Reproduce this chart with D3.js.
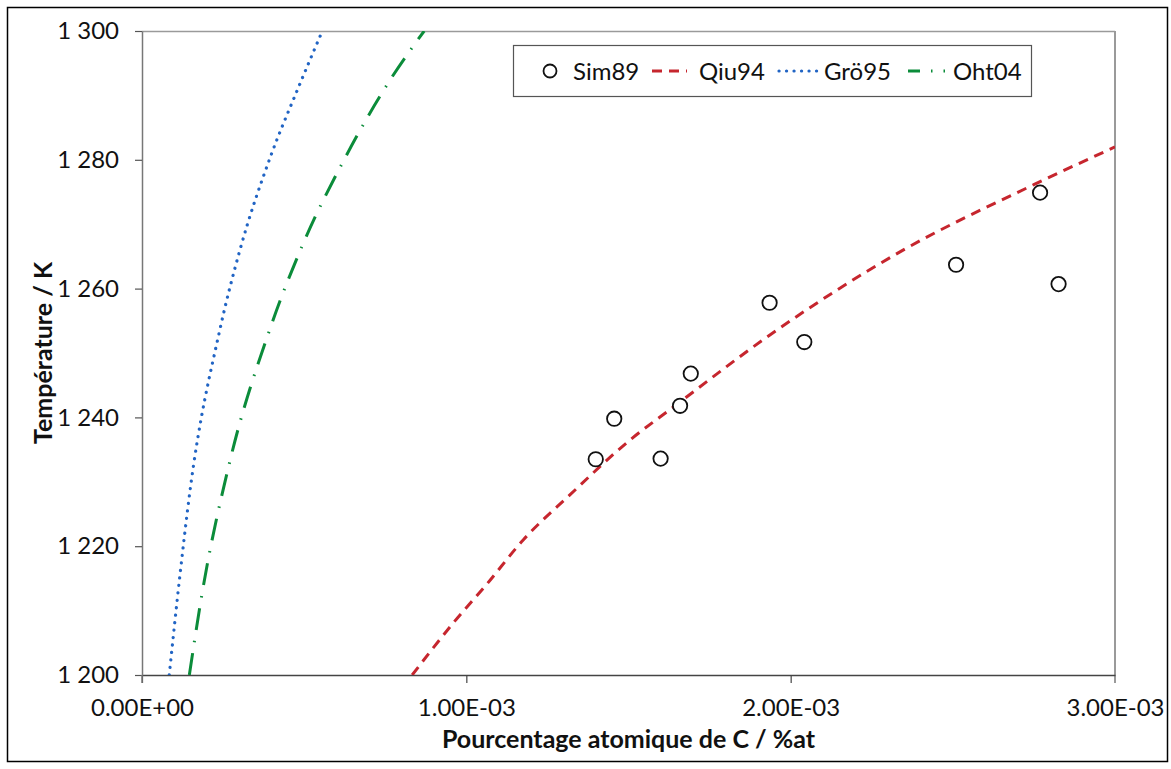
<!DOCTYPE html>
<html>
<head>
<meta charset="utf-8">
<script src="https://cdn.jsdelivr.net/npm/d3@7"></script>
<style>
  body { margin: 0; background: #fff; }
  svg { display: block; }
  text { font-family: Lato, "Open Sans", sans-serif; fill: #111; }
</style>
</head>
<body>
<div id="chart"></div>
<script>

// ---- data (x in %at, T in K) ----
var xTicks = [0, 0.001, 0.002, 0.003];
var xTickLabels = ["0.00E+00", "1.00E-03", "2.00E-03", "3.00E-03"];
var yTicks = [1200, 1220, 1240, 1260, 1280, 1300];
var yTickLabels = ["1 200", "1 220", "1 240", "1 260", "1 280", "1 300"];

// Sim89 measured points
var sim89X = [0.001399, 0.001456, 0.001599, 0.001659, 0.001692, 0.001935, 0.002042, 0.002510, 0.002769, 0.002826];
var sim89T = [1233.5, 1239.8, 1233.6, 1241.8, 1246.8, 1257.8, 1251.7, 1263.7, 1274.9, 1260.7];

// Qiu94 curve
var qiu94X = [0.000833, 0.000960, 0.001063, 0.001176, 0.001320, 0.001505, 0.001638, 0.001936, 0.002337, 0.002748, 0.003000];
var qiu94T = [1200, 1208.1, 1214.1, 1221.0, 1228.0, 1236.5, 1241.6, 1252.8, 1265.7, 1276.1, 1282.0];

// Grö95 curve
var gro95X = [0.000084, 0.000117, 0.000148, 0.000240, 0.000302, 0.000397, 0.000477, 0.000556];
var gro95T = [1200, 1215.5, 1228.6, 1253.6, 1266.0, 1280.6, 1290.6, 1300];

// Oht04 curve
var oht04X = [0.000146, 0.000184, 0.000271, 0.000395, 0.000497, 0.000623, 0.000765, 0.000870];
var oht04T = [1200, 1212.3, 1233.2, 1253.8, 1267.0, 1280.0, 1292.4, 1300];

var seriesNames = ["Sim89", "Qiu94", "Grö95", "Oht04"];

// ---- layout ----
var W = 1171, H = 769;
var margin = {top: 31, right: 56, bottom: 94, left: 142};
var plot_w = W - margin.left - margin.right;   // 973
var plot_h = H - margin.top - margin.bottom;   // 644

var svg = d3.select("#chart").append("svg")
  .attr("width", W).attr("height", H);

// outer frame
svg.append("rect")
  .attr("x", 7.5).attr("y", 7.5)
  .attr("width", 1160).attr("height", 754)
  .attr("fill", "none").attr("stroke", "#000").attr("stroke-width", 1.5);

var g = svg.append("g")
  .attr("transform", "translate(" + margin.left + "," + margin.top + ")");

var x = d3.scaleLinear().domain([0, 0.003]).range([0, plot_w]);
var y = d3.scaleLinear().domain([1200, 1300]).range([plot_h, 0]);

g.append("clipPath").attr("id", "clip")
  .append("rect").attr("width", plot_w).attr("height", plot_h);

// top and right frame of the plot area
g.append("line").attr("x1", 0).attr("x2", plot_w).attr("y1", 0.5).attr("y2", 0.5)
  .attr("stroke", "#9a9a9a").attr("stroke-width", 1.5);
g.append("line").attr("x1", plot_w).attr("x2", plot_w).attr("y1", 0).attr("y2", plot_h + 8)
  .attr("stroke", "#9a9a9a").attr("stroke-width", 2);

// X axis
var xAxis = d3.axisBottom(x)
  .tickValues(xTicks)
  .tickSize(8)
  .tickSizeOuter(0)
  .tickFormat(function(d, i) { return xTickLabels[i]; });
var gx = g.append("g")
  .attr("transform", "translate(0," + plot_h + ")")
  .call(xAxis);
gx.select(".domain").attr("stroke", "#444").attr("stroke-width", 1.5);
gx.selectAll(".tick line").attr("stroke", "#444").attr("stroke-width", 1.2);
gx.selectAll(".tick").filter(function(d) { return d === 0.003; }).select("line").remove();
gx.selectAll(".tick text")
  .attr("y", 24).attr("dy", "0.71em")
  .style("font-size", "24px").style("font-family", "Lato, sans-serif");

// Y axis
var yAxis = d3.axisLeft(y)
  .tickValues(yTicks)
  .tickSize(7)
  .tickSizeOuter(0)
  .tickFormat(function(d, i) { return yTickLabels[i]; });
var gy = g.append("g").call(yAxis);
gy.select(".domain").attr("stroke", "#777").attr("stroke-width", 1.5);
gy.selectAll(".tick line").attr("stroke", "#555").attr("stroke-width", 1.2);
gy.selectAll(".tick text")
  .attr("x", -23)
  .style("font-size", "24px").style("font-family", "Lato, sans-serif");

// y axis line continues down as the 0 tick
g.append("line").attr("x1", 0).attr("x2", 0).attr("y1", plot_h).attr("y2", plot_h + 8)
  .attr("stroke", "#777").attr("stroke-width", 1.5);

// axis titles
g.append("text")
  .attr("x", plot_w / 2).attr("y", plot_h + 73)
  .style("text-anchor", "middle")
  .style("font-size", "25px").style("font-weight", "bold")
  .text("Pourcentage atomique de C / %at");

g.append("text")
  .attr("transform", "rotate(-90)")
  .attr("x", -plot_h / 2).attr("y", -90)
  .style("text-anchor", "middle")
  .style("font-size", "25px").style("font-weight", "bold")
  .text("Température / K");

// curves
function zipXY(xs, ts) { return xs.map(function(v, i) { return {x: v, t: ts[i]}; }); }

var line = d3.line()
  .x(function(d) { return x(d.x); })
  .y(function(d) { return y(d.t); })
  .curve(d3.curveMonotoneX);

var curves = [
  {name: "Qiu94", data: zipXY(qiu94X, qiu94T), color: "#c6262e", width: 3, dash: "10,7", cap: "butt"},
  {name: "Grö95", data: zipXY(gro95X, gro95T), color: "#2164c4", width: 3.2, dash: "0.1,7.4", cap: "round"},
  {name: "Oht04", data: zipXY(oht04X, oht04T), color: "#0b8c3a", width: 3, dash: "22,11,1.5,11", cap: "butt"}
];

var plotArea = g.append("g").attr("clip-path", "url(#clip)");

curves.forEach(function(c) {
  plotArea.append("path")
    .datum(c.data)
    .attr("fill", "none")
    .attr("stroke", c.color)
    .attr("stroke-width", c.width)
    .attr("stroke-dasharray", c.dash)
    .attr("stroke-linecap", c.cap)
    .attr("d", line);
});

// Sim89 points
g.selectAll(".sim89")
  .data(zipXY(sim89X, sim89T))
  .enter().append("circle")
    .attr("class", "sim89")
    .attr("cx", function(d) { return x(d.x); })
    .attr("cy", function(d) { return y(d.t); })
    .attr("r", 7.2)
    .attr("fill", "#fff")
    .attr("stroke", "#111")
    .attr("stroke-width", 1.8);

// legend
var legend = svg.append("g").attr("transform", "translate(513,45)");
legend.append("rect")
  .attr("x", 0.5).attr("y", 0.5).attr("width", 518).attr("height", 51)
  .attr("fill", "#fff").attr("stroke", "#555").attr("stroke-width", 1.2);

var ly = 26;
legend.append("circle").attr("cx", 37).attr("cy", ly).attr("r", 6.5)
  .attr("fill", "#fff").attr("stroke", "#111").attr("stroke-width", 1.8);
legend.append("text").attr("x", 60).attr("y", ly).attr("dy", "0.36em")
  .style("font-size", "24px").text(seriesNames[0]);

var legendItems = [
  {x0: 139, x1: 174, tx: 186, c: curves[0]},
  {x0: 266, x1: 308, tx: 311, c: curves[1]},
  {x0: 395, x1: 432, tx: 440, c: curves[2]}
];
legendItems.forEach(function(it, i) {
  legend.append("line")
    .attr("x1", it.x0).attr("x2", it.x1).attr("y1", ly).attr("y2", ly)
    .attr("stroke", it.c.color).attr("stroke-width", it.c.width)
    .attr("stroke-dasharray", i === 2 ? "12,11,1.5,11" : it.c.dash)
    .attr("stroke-linecap", it.c.cap);
  legend.append("text").attr("x", it.tx).attr("y", ly).attr("dy", "0.36em")
    .style("font-size", "24px").text(seriesNames[i + 1]);
});

</script>
</body>
</html>
